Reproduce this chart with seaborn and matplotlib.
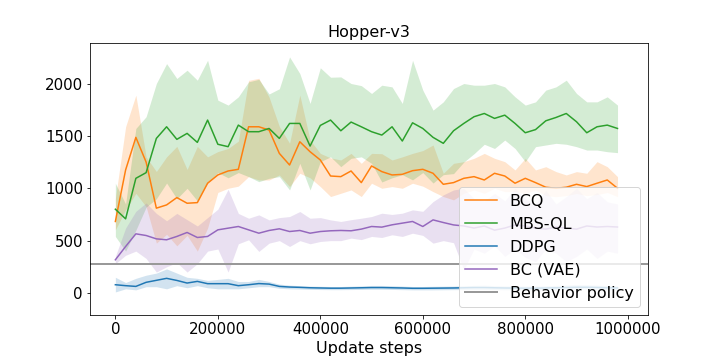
import numpy as np
import pandas as pd
import matplotlib
matplotlib.use("Agg")
import matplotlib.pyplot as plt
import seaborn as sns
from matplotlib.ticker import ScalarFormatter

# ==============================
# Data (every 20000 steps)
# ==============================
steps = np.arange(0, 1000000, 20000)

bcq_mean = [683, 1175, 1486, 1250, 810, 841, 911, 857, 863, 1048,
            1127, 1165, 1181, 1587, 1587, 1556, 1333, 1222, 1444, 1349,
            1270, 1117, 1111, 1165, 1054, 1213, 1159, 1127, 1133, 1168,
            1181, 1143, 1038, 1054, 1095, 1111, 1079, 1143, 1117, 1048,
            1095, 1054, 1010, 1000, 1010, 1038, 1016, 1048, 1079, 1000]
bcq_hi = [900, 1587, 1889, 1300, 1160, 1300, 1400, 1180, 1400, 1300,
          1350, 1380, 1450, 2030, 2050, 1870, 1590, 1430, 1890, 1460,
          1333, 1290, 1270, 1333, 1238, 1333, 1330, 1270, 1300, 1333,
          1360, 1413, 1143, 1238, 1254, 1286, 1333, 1286, 1254, 1175,
          1286, 1175, 1206, 1159, 1127, 1159, 1143, 1254, 1206, 1111]
bcq_lo = [603, 794, 952, 825, 476, 560, 450, 550, 400, 620,
          960, 1000, 1020, 1111, 1079, 1079, 1127, 1016, 1143, 1100,
          1016, 921, 952, 984, 921, 1048, 1000, 1016, 1000, 1048,
          1020, 968, 921, 889, 952, 984, 952, 1000, 968, 968,
          950, 984, 930, 920, 930, 950, 930, 940, 960, 920]

mbs_mean = [800, 708, 1095, 1149, 1476, 1587, 1467, 1524, 1438, 1651,
            1420, 1397, 1603, 1540, 1540, 1571, 1476, 1619, 1619, 1403,
            1600, 1651, 1549, 1632, 1587, 1540, 1508, 1587, 1451, 1625,
            1571, 1486, 1429, 1549, 1619, 1683, 1714, 1667, 1698, 1619,
            1530, 1560, 1644, 1676, 1714, 1635, 1530, 1587, 1603, 1571]
mbs_hi = [1048, 850, 1571, 1683, 2000, 2190, 2048, 2127, 2032, 2222,
          1841, 1794, 1873, 2016, 2040, 1900, 1950, 2254, 2095, 1810,
          2150, 2060, 2063, 2000, 1980, 1905, 1984, 1968, 1810, 2222,
          1937, 1746, 1825, 1952, 2000, 1984, 1984, 2000, 1968, 1873,
          1794, 1825, 1937, 1968, 2032, 1905, 1825, 1825, 1873, 1794]
mbs_lo = [540, 400, 600, 820, 900, 1050, 900, 1000, 880, 1050,
          1150, 1100, 1150, 1111, 1063, 1095, 1111, 984, 1238, 984,
          1254, 1300, 1206, 1286, 1300, 1238, 1060, 1100, 1130, 1080,
          1150, 1050, 1130, 1140, 1250, 1330, 1420, 1380, 1460, 1380,
          1254, 1397, 1413, 1429, 1420, 1397, 1365, 1365, 1349, 1340]

ddpg_mean = [79, 70, 63, 102, 121, 140, 120, 95, 111, 89,
             89, 89, 70, 79, 90, 85, 63, 57, 54, 50,
             48, 46, 46, 48, 50, 52, 52, 50, 48, 45,
             45, 46, 47, 48, 50, 52, 52, 50, 48, 47,
             46, 46, 48, 50, 52, 55, 55, 53, 50, 48]
ddpg_hi = [150, 100, 140, 170, 190, 230, 190, 150, 140, 120,
           130, 140, 110, 110, 130, 110, 85, 75, 70, 66,
           64, 62, 62, 65, 68, 72, 72, 70, 66, 62,
           62, 64, 65, 66, 70, 72, 74, 70, 68, 66,
           65, 66, 68, 72, 76, 80, 78, 75, 70, 68]
ddpg_lo = [10, 40, 30, 60, 60, 40, 70, 50, 70, 50,
           40, 40, 40, 50, 60, 60, 45, 40, 38, 35,
           33, 32, 32, 33, 34, 36, 36, 34, 32, 30,
           30, 30, 31, 32, 33, 34, 34, 33, 31, 30,
           29, 29, 30, 32, 33, 35, 35, 34, 32, 30]

bc_mean = [317, 444, 565, 549, 517, 508, 540, 578, 530, 540,
           603, 619, 635, 603, 571, 597, 613, 587, 597, 571,
           587, 594, 597, 594, 610, 635, 629, 651, 667, 683,
           635, 698, 673, 650, 640, 620, 640, 600, 620, 650,
           640, 620, 610, 630, 620, 610, 640, 630, 635, 630]
bc_hi = [350, 620, 780, 860, 760, 690, 760, 700, 640, 720,
         800, 990, 760, 714, 746, 698, 720, 730, 778, 714,
         720, 698, 683, 700, 714, 730, 762, 750, 762, 794,
         780, 873, 937, 984, 1000, 900, 880, 950, 880, 1000,
         900, 850, 980, 850, 920, 1000, 900, 960, 870, 850]
bc_lo = [280, 360, 400, 330, 200, 250, 290, 200, 280, 400,
         420, 200, 470, 508, 397, 476, 500, 444, 500, 470,
         492, 500, 500, 524, 510, 540, 530, 556, 540, 571,
         550, 476, 500, 480, 222, 420, 380, 450, 350, 420,
         340, 300, 420, 380, 300, 350, 420, 330, 400, 380]

behavior_policy = 280

series = [
    ("BCQ", bcq_mean, bcq_lo, bcq_hi, "#ff7f0e"),
    ("MBS-QL", mbs_mean, mbs_lo, mbs_hi, "#2ca02c"),
    ("DDPG", ddpg_mean, ddpg_lo, ddpg_hi, "#1f77b4"),
    ("BC (VAE)", bc_mean, bc_lo, bc_hi, "#9467bd"),
]

# ==============================
# Plot
# ==============================
fig, ax = plt.subplots(figsize=(10, 5), dpi=72)
fig.subplots_adjust(left=0.125, right=0.9, top=0.88, bottom=0.125)

for name, mean, lo, hi, color in series:
    df = pd.DataFrame({"step": steps, "value": mean})
    sns.lineplot(data=df, x="step", y="value", ax=ax, color=color,
                 linewidth=1.5, label=name)
    ax.fill_between(steps, lo, hi, color=color, alpha=0.2, linewidth=0)

ax.axhline(behavior_policy, color="#999999", linewidth=2, label="Behavior policy")

ax.set_xlim(-49500, 1039500)
ax.set_ylim(-210, 2385)
fmt = ScalarFormatter(useOffset=False)
fmt.set_scientific(False)
ax.xaxis.set_major_formatter(fmt)
ax.set_xticks([0, 200000, 400000, 600000, 800000, 1000000])
ax.set_yticks([0, 500, 1000, 1500, 2000])
ax.tick_params(labelsize=15)

ax.set_title("Hopper-v3", fontsize=16)
ax.set_xlabel("Update steps", fontsize=16)
ax.set_ylabel("")
ax.legend(loc="lower right", fontsize=16)

fig.savefig("out.png", dpi=72)
